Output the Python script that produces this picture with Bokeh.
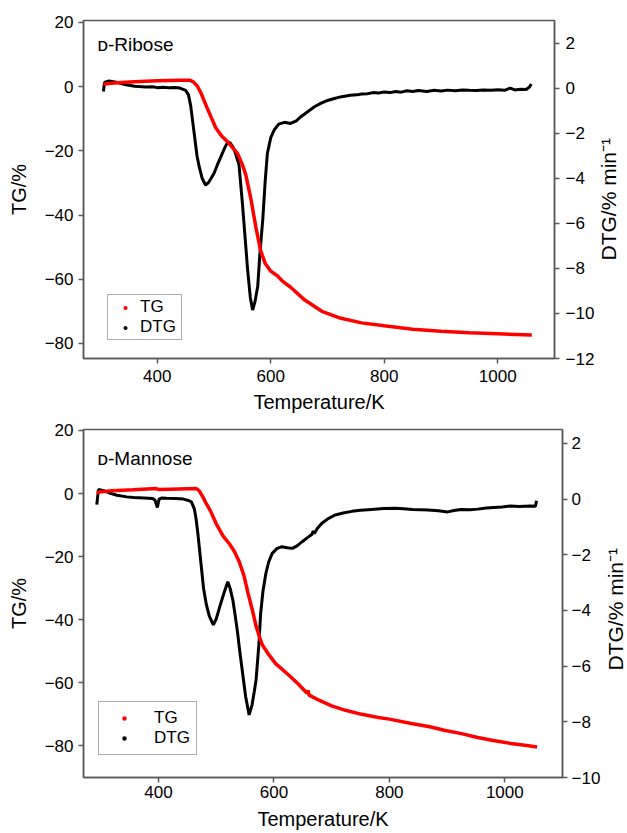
import math
from bokeh.plotting import figure
from bokeh.models import (Range1d, LinearAxis, Legend, LegendItem, Label, FixedTicker,
                          ColumnDataSource)
from bokeh.layouts import column, row
from bokeh.embed import file_html
from bokeh.resources import INLINE

FONT = "Liberation Sans"

# ---------------- data: D-Ribose ----------------
rib_tg_T = [305, 330, 360, 400, 440, 458, 464, 470, 476, 488, 503, 514, 524, 541, 550, 556,
            565, 574, 582, 590, 600, 612, 620, 635, 660, 690, 720, 760, 800, 850, 900,
            950, 1000, 1060]
rib_tg = [0.8, 1.2, 1.5, 1.8, 2.0, 2.0, 1.4, 0.3, -1.6, -6.7, -12.8, -15.5, -17.2, -20.7, -24.3, -27.5,
          -35.0, -44.0, -51.0, -55.0, -57.5, -59.0, -60.5, -62.5, -66.5, -70.0, -72.0, -73.6, -74.5, -75.6, -76.2,
          -76.7, -77.0, -77.4]

rib_dtg_T = [305, 307, 315, 330, 345, 360, 380, 392, 400, 410, 420, 430, 440, 450, 455, 459, 465,
             470, 474, 479, 485, 490, 495, 500, 506, 512, 518, 524, 528, 533, 538, 544, 550,
             555, 559, 564, 568, 572, 577, 581, 586, 590, 594, 600, 606, 614, 624, 635, 645,
             653, 665, 677, 688, 700, 712, 725, 740, 752, 760, 770, 780, 790, 800, 810, 820,
             830, 840, 850, 860, 875, 888, 900, 912, 925, 938, 950, 962, 975, 988, 1000, 1012,
             1022, 1030, 1040, 1050, 1056, 1059]
rib_dtg = [-0.15, 0.25, 0.32, 0.25, 0.15, 0.08, 0.05, 0.06, 0.02, 0.04, 0.02, 0.03, 0.0, -0.1, -0.3, -0.8, -2.0,
           -3.0, -3.5, -4.0, -4.3, -4.2, -4.0, -3.78, -3.4, -3.05, -2.7, -2.4, -2.42, -2.6, -2.9, -3.4, -5.1,
           -6.7, -8.0, -9.3, -9.85, -9.5, -8.8, -7.3, -5.8, -4.2, -2.9, -2.2, -1.86, -1.6, -1.52, -1.57, -1.45,
           -1.27, -1.05, -0.83, -0.68, -0.55, -0.46, -0.38, -0.32, -0.3, -0.26, -0.25, -0.2, -0.22, -0.17, -0.2, -0.15,
           -0.18, -0.12, -0.15, -0.11, -0.15, -0.1, -0.13, -0.09, -0.12, -0.08, -0.1, -0.11, -0.08, -0.1, -0.07, -0.1,
           0.0, -0.08, -0.05, -0.06, 0.05, 0.18]

# ---------------- data: D-Mannose ----------------
man_tg_T = [293, 300, 320, 356, 396, 400, 420, 465, 470, 476, 483, 490, 500, 512, 523, 532, 540,
            548, 555, 562, 569, 575, 580, 590, 603, 626, 643, 655, 657, 659, 661, 678, 700,
            724, 750, 781, 800, 838, 870, 895, 925, 953, 980, 1010, 1035, 1056]
man_tg = [0.1, 0.6, 0.9, 1.2, 1.6, 1.3, 1.4, 1.6, 1.0, -0.8, -3.3, -5.5, -9.6, -13.5, -16.0, -18.5, -21.7,
          -26.0, -31.5, -36.5, -42.0, -45.5, -48.0, -50.8, -53.9, -57.6, -60.5, -62.8, -63.3, -62.4, -63.9, -65.5, -67.3,
          -68.7, -69.9, -71.0, -71.5, -72.9, -73.9, -75.0, -76.1, -77.3, -78.3, -79.2, -79.8, -80.3]

man_dtg_T = [293, 296, 305, 315, 328, 345, 357, 375, 390, 394, 398, 401, 405, 414, 430, 443, 452,
             457, 462, 465, 468, 471, 474, 478, 483, 488, 495, 500, 506, 513, 520, 524, 529,
             533, 537, 541, 546, 551, 557, 562, 566, 569, 574, 577, 581, 586, 591, 597, 605,
             614, 623, 632, 640, 649, 657, 666, 668, 670, 675, 683, 694, 706, 720, 735, 750,
             769, 790, 810, 825, 840, 855, 867, 885, 901, 912, 924, 940, 953, 968, 981, 995,
             1010, 1025, 1044, 1053, 1055]
man_dtg = [-0.2, 0.35, 0.3, 0.22, 0.14, 0.08, 0.06, 0.04, 0.02, -0.04, -0.3, 0.0, 0.04, 0.03, 0.02, 0.0, -0.05,
           -0.1, -0.35, -0.7, -1.2, -1.8, -2.4, -3.2, -3.8, -4.2, -4.52, -4.3, -3.87, -3.4, -2.97, -3.2, -3.65,
           -4.2, -4.8, -5.5, -6.3, -7.1, -7.75, -7.4, -6.9, -6.5, -5.2, -4.1, -3.3, -2.67, -2.25, -1.95, -1.78,
           -1.71, -1.75, -1.77, -1.68, -1.53, -1.4, -1.26, -1.15, -1.24, -1.06, -0.87, -0.7, -0.57, -0.5, -0.44, -0.4,
           -0.37, -0.34, -0.33, -0.35, -0.37, -0.38, -0.39, -0.42, -0.46, -0.41, -0.37, -0.38, -0.36, -0.32, -0.3, -0.28,
           -0.25, -0.27, -0.25, -0.26, -0.06]

# ---------------- ticks ----------------
x_ticks = [400, 600, 800, 1000]
x_tick_labels = ["400", "600", "800", "1000"]
tg_ticks = [-80, -60, -40, -20, 0, 20]
tg_tick_labels = ["\u221280", "\u221260", "\u221240", "\u221220", "0", "20"]
rib_dtg_ticks = [-12, -10, -8, -6, -4, -2, 0, 2]
rib_dtg_tick_labels = ["\u221212", "\u221210", "\u22128", "\u22126", "\u22124", "\u22122", "0", "2"]
man_dtg_ticks = [-10, -8, -6, -4, -2, 0, 2]
man_dtg_tick_labels = ["\u221210", "\u22128", "\u22126", "\u22124", "\u22122", "0", "2"]

AX_COLOR = "#5a5a5a"
TICK_SIZE = "17px"
TITLE_SIZE = "20px"


def style_axis(ax, ticks, labels, title, s1, s2):
    ax.ticker = FixedTicker(ticks=ticks)
    ax.major_label_overrides = {t: l for t, l in zip(ticks, labels)}
    if title:
        ax.axis_label = title
    ax.axis_label_text_font = FONT
    ax.axis_label_text_font_size = TITLE_SIZE
    ax.axis_label_text_font_style = "normal"
    ax.axis_label_text_color = "black"
    ax.major_label_text_font = FONT
    ax.major_label_text_font_size = TICK_SIZE
    ax.major_label_text_color = "black"
    ax.axis_line_color = AX_COLOR
    ax.axis_line_width = 1.5
    ax.major_tick_line_color = AX_COLOR
    ax.major_tick_line_width = 1.5
    ax.major_tick_out = 5
    ax.major_tick_in = 0
    ax.minor_tick_line_color = None
    ax.major_label_standoff = s1
    ax.axis_label_standoff = s2


def panel(name, tg_T, tg, dtg_T, dtg, x_rng, tg_rng, dtg_rng, dtg_ticks, dtg_labels,
          width, height, borders, bottom_standoffs, right_s1, title_y, leg):
    p = figure(width=width, height=height, output_backend="svg", toolbar_location=None,
               x_range=Range1d(*x_rng), y_range=Range1d(*tg_rng),
               min_border_left=borders[0], min_border_right=borders[1],
               min_border_top=borders[2], min_border_bottom=borders[3])
    p.extra_y_ranges = {"dtg": Range1d(*dtg_rng)}
    # range used only by the legend symbols: it maps all data outside the frame
    p.extra_x_ranges = {"legend_only": Range1d(5000, 6000)}
    p.grid.visible = False
    p.outline_line_color = AX_COLOR
    p.outline_line_width = 1.5
    p.background_fill_color = "white"
    p.border_fill_color = "white"

    style_axis(p.xaxis[0], x_ticks, x_tick_labels, "Temperature/K", *bottom_standoffs)
    style_axis(p.yaxis[0], tg_ticks, tg_tick_labels, "TG/%", 5, 12)
    rax = LinearAxis(y_range_name="dtg")
    style_axis(rax, dtg_ticks, dtg_labels, None, right_s1, 0)
    p.add_layout(rax, "right")

    tg_src = ColumnDataSource(dict(T=tg_T, v=tg))
    dtg_src = ColumnDataSource(dict(T=dtg_T, v=dtg))
    p.line("T", "v", source=dtg_src, y_range_name="dtg", line_color="black", line_width=3)
    p.line("T", "v", source=tg_src, line_color="#ff0000", line_width=3.5)

    # dot symbols for the legend (their points fall outside the frame)
    lg_tg = p.scatter("T", "v", source=tg_src, x_range_name="legend_only", marker="circle",
                      fill_color="#ff0000", line_color="white", line_width=3.5)
    lg_dtg = p.scatter("T", "v", source=dtg_src, x_range_name="legend_only", y_range_name="dtg",
                       marker="circle", fill_color="black", line_color="white", line_width=3.5)
    legend = Legend(items=[LegendItem(label="TG", renderers=[lg_tg]),
                           LegendItem(label="DTG", renderers=[lg_dtg])],
                    location=leg["loc"], padding=leg["pad"], spacing=0, margin=0,
                    glyph_width=leg["gw"], glyph_height=leg["gh"], label_height=leg["gh"],
                    label_width=leg["lw"], label_standoff=leg["st"],
                    label_text_font=FONT, label_text_font_size="17px", label_text_color="black",
                    border_line_color=AX_COLOR, border_line_width=1.5,
                    background_fill_color="white", background_fill_alpha=1.0)
    p.add_layout(legend, "center")

    p.add_layout(Label(x=14, y=title_y, x_units="screen", y_units="screen", text=name,
                       text_font=FONT, text_font_size="19px", text_baseline="alphabetic",
                       text_color="black"))
    return p


def side_label(width, height, cx, cy):
    # right-hand axis title, reading bottom to top, starting at (cx, cy) above the frame bottom
    s = figure(width=width, height=height, output_backend="svg", toolbar_location=None,
               x_axis_type=None, y_axis_type=None, min_border=0,
               x_range=Range1d(0, 1), y_range=Range1d(0, 1))
    s.grid.visible = False
    s.outline_line_color = None
    s.add_layout(Label(x=cx, y=cy, x_units="screen", y_units="screen",
                       text="DTG/% min\u207b\u00b9", angle=math.pi / 2,
                       text_align="left", text_baseline="middle",
                       text_font=FONT, text_font_size="21px", text_color="black"))
    return s


p1 = panel("\u1d05-Ribose", rib_tg_T, rib_tg, rib_dtg_T, rib_dtg,
           (270, 1100), (-84.7, 20.6), (-12, 3), rib_dtg_ticks, rib_dtg_tick_labels,
           597, 420, (83, 43, 20, 62), (6, 6), 6, 314,
           dict(loc=(24, 18), pad=2, gw=30, gh=19, lw=39, st=0))
s1 = side_label(30, 420, 11, 98)

p2 = panel("\u1d05-Mannose", man_tg_T, man_tg, man_dtg_T, man_dtg,
           (270, 1100), (-90, 20.3), (-10, 2.5), man_dtg_ticks, man_dtg_tick_labels,
           603, 413, (83, 38, 9, 56), (3, 7), 4, 319,
           dict(loc=(15, 22), pad=6, gw=38, gh=20, lw=36, st=11))
s2 = side_label(24, 413, 12, 107)

layout = column(row(p1, s1, spacing=0), row(p2, s2, spacing=0), spacing=0)
open("out.html", "w").write(file_html(layout, INLINE))
